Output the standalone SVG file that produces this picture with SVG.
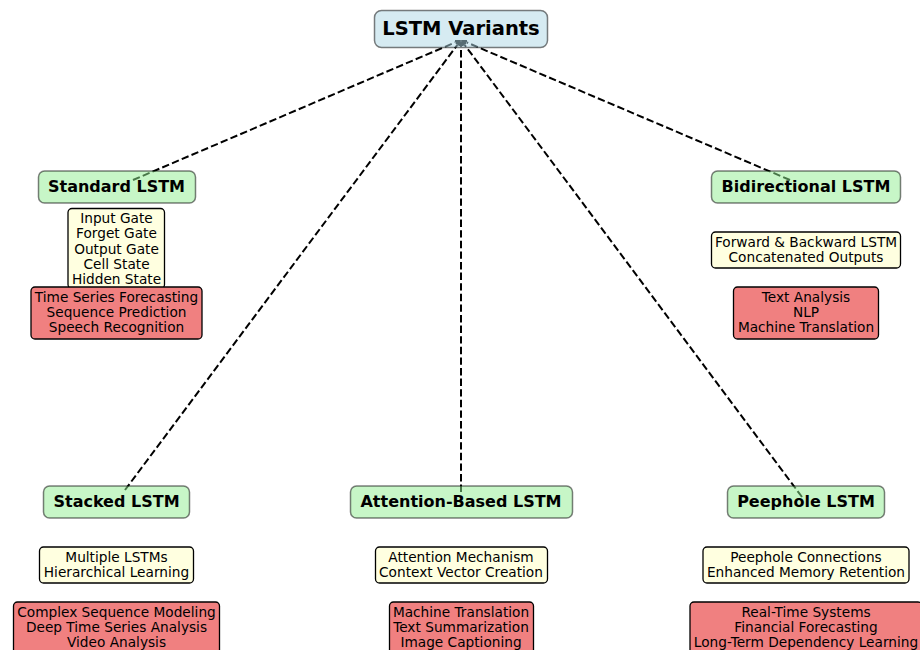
<svg xmlns="http://www.w3.org/2000/svg" width="920" height="650" viewBox="0 0 920 650">
  <defs>
    <marker id="head" markerUnits="userSpaceOnUse" markerWidth="6" markerHeight="5" viewBox="0 0 6 5" refX="0" refY="2.5" orient="auto">
      <path d="M0,0 L6,2.5 L0,5 Z" fill="#000"/>
    </marker>
  </defs>
  <style>
    text { font-family: "DejaVu Sans", "Liberation Sans", sans-serif; text-anchor: middle; fill: #000; }
    .root-box { fill: #add8e6; fill-opacity: 0.5; stroke: #000; stroke-opacity: 0.5; stroke-width: 1.5; }
    .var-box { fill: #90ee90; fill-opacity: 0.5; stroke: #000; stroke-opacity: 0.5; stroke-width: 1.5; }
    .feat-box { fill: #ffffe0; stroke: #000; stroke-width: 1.3; }
    .use-box { fill: #f08080; stroke: #000; stroke-width: 1.3; }
    .root-label { font-size: 19.5px; font-weight: bold; }
    .var-label { font-size: 16px; font-weight: bold; }
    .small { font-size: 13.7px; }
    .edge { fill: none; stroke: #000; stroke-width: 2; stroke-dasharray: 7.4 3.2; marker-end: url(#head); }
  </style>
  <rect width="920" height="650" fill="#fff"/>

  <!-- connectors: each variant points back to the root -->
  <g id="connectors">
    <path class="edge" d="M133,180 L455.5,42.3"/>
    <path class="edge" d="M790,180 L466.5,42.3"/>
    <path class="edge" d="M125,490 L457.4,44.8"/>
    <path class="edge" d="M461,492 L461,46"/>
    <path class="edge" d="M802,497 L464.6,44.8"/>
  </g>

  <g id="root">
    <rect class="root-box" x="374.5" y="10.5" width="173" height="37" rx="7"/>
    <text class="root-label" x="461" y="34.5">LSTM Variants</text>
  </g>

  <!-- Standard LSTM -->
  <g id="standard">
    <rect class="var-box" x="38.5" y="171" width="157" height="32" rx="6"/>
    <text class="var-label" x="116.5" y="192">Standard LSTM</text>
  </g>
  <g id="standard-features">
    <rect class="feat-box" x="68" y="208.5" width="96.5" height="80" rx="4"/>
    <text class="small"><tspan x="116.5" y="223">Input Gate</tspan><tspan x="116.5" y="238.3">Forget Gate</tspan><tspan x="116.5" y="253.6">Output Gate</tspan><tspan x="116.5" y="268.9">Cell State</tspan><tspan x="116.5" y="284.2">Hidden State</tspan></text>
  </g>
  <g id="standard-uses">
    <rect class="use-box" x="31" y="287" width="171" height="52" rx="4"/>
    <text class="small"><tspan x="116.5" y="301.7">Time Series Forecasting</tspan><tspan x="116.5" y="316.8">Sequence Prediction</tspan><tspan x="116.5" y="331.9">Speech Recognition</tspan></text>
  </g>

  <!-- Bidirectional LSTM -->
  <g id="bidirectional">
    <rect class="var-box" x="711.5" y="171" width="189" height="32" rx="6"/>
    <text class="var-label" x="806" y="192">Bidirectional LSTM</text>
  </g>
  <g id="bidirectional-features">
    <rect class="feat-box" x="711.5" y="232" width="189" height="36" rx="4"/>
    <text class="small"><tspan x="806" y="246.7">Forward &amp; Backward LSTM</tspan><tspan x="806" y="261.9">Concatenated Outputs</tspan></text>
  </g>
  <g id="bidirectional-uses">
    <rect class="use-box" x="733.5" y="287" width="145" height="52" rx="4"/>
    <text class="small"><tspan x="806" y="301.7">Text Analysis</tspan><tspan x="806" y="316.8">NLP</tspan><tspan x="806" y="331.9">Machine Translation</tspan></text>
  </g>

  <!-- Stacked LSTM -->
  <g id="stacked">
    <rect class="var-box" x="43.5" y="486" width="146" height="32" rx="6"/>
    <text class="var-label" x="116.5" y="507">Stacked LSTM</text>
  </g>
  <g id="stacked-features">
    <rect class="feat-box" x="39.5" y="547" width="154" height="36" rx="4"/>
    <text class="small"><tspan x="116.5" y="561.7">Multiple LSTMs</tspan><tspan x="116.5" y="576.9">Hierarchical Learning</tspan></text>
  </g>
  <g id="stacked-uses">
    <rect class="use-box" x="13.5" y="602" width="206" height="60" rx="4"/>
    <text class="small"><tspan x="116.5" y="616.7">Complex Sequence Modeling</tspan><tspan x="116.5" y="631.8">Deep Time Series Analysis</tspan><tspan x="116.5" y="646.9">Video Analysis</tspan></text>
  </g>

  <!-- Attention-Based LSTM -->
  <g id="attention">
    <rect class="var-box" x="350.5" y="486" width="222" height="32" rx="6"/>
    <text class="var-label" x="461" y="507">Attention-Based LSTM</text>
  </g>
  <g id="attention-features">
    <rect class="feat-box" x="375.5" y="547" width="172" height="36" rx="4"/>
    <text class="small"><tspan x="461" y="561.7">Attention Mechanism</tspan><tspan x="461" y="576.9">Context Vector Creation</tspan></text>
  </g>
  <g id="attention-uses">
    <rect class="use-box" x="389.5" y="602" width="144" height="60" rx="4"/>
    <text class="small"><tspan x="461" y="616.7">Machine Translation</tspan><tspan x="461" y="631.8">Text Summarization</tspan><tspan x="461" y="646.9">Image Captioning</tspan></text>
  </g>

  <!-- Peephole LSTM -->
  <g id="peephole">
    <rect class="var-box" x="727.5" y="486" width="157" height="32" rx="6"/>
    <text class="var-label" x="806" y="507">Peephole LSTM</text>
  </g>
  <g id="peephole-features">
    <rect class="feat-box" x="703" y="547" width="206" height="36" rx="4"/>
    <text class="small"><tspan x="806" y="561.7">Peephole Connections</tspan><tspan x="806" y="576.9">Enhanced Memory Retention</tspan></text>
  </g>
  <g id="peephole-uses">
    <rect class="use-box" x="690" y="602" width="232" height="60" rx="4"/>
    <text class="small"><tspan x="806" y="616.7">Real-Time Systems</tspan><tspan x="806" y="631.8">Financial Forecasting</tspan><tspan x="806" y="646.9">Long-Term Dependency Learning</tspan></text>
  </g>
</svg>
